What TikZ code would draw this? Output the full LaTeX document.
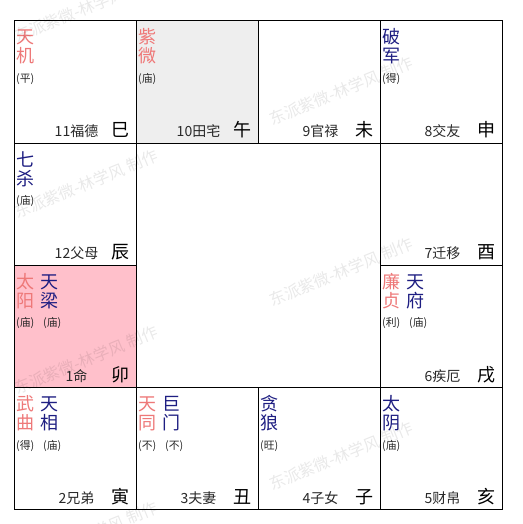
\documentclass[tikz,border=0pt]{standalone}
\usepackage{fontspec}
\setmainfont{Noto Sans CJK SC}
\definecolor{starred}{RGB}{238,120,120}
\definecolor{starblue}{RGB}{30,30,130}
\definecolor{cellgray}{RGB}{238,238,238}
\definecolor{mingpink}{RGB}{255,192,203}
\definecolor{lbltext}{RGB}{40,40,40}
\newcommand\gong[6]{%
  \pgfmathsetmacro\gx{13.5+122*#2}%
  \pgfmathsetmacro\gy{20.5+122.2*#3}%
  \node[cellbox, fill=#6] (c#1) at (\gx,\gy) {};
  \node[lbl] (l#1) at (\gx+63,\gy+116.2) {#4};
  \node[br] (b#1) at (\gx+115.7,\gy+116.2) {#5};
}
\newcommand\xing[7]{%
  \pgfmathsetmacro\gx{13.5+122*#2+2.7+24*#4}%
  \pgfmathsetmacro\gy{20.5+122.2*#3}%
  \node[starch, text=#5] (s#1a) at (\gx,\gy+23.5) {#6};
  \node[starch, text=#5] (s#1b) at (\gx,\gy+42.5) {#7};
}
\newcommand\miao[5]{%
  \pgfmathsetmacro\gx{13.5+122*#2+2.5+27*#4}%
  \pgfmathsetmacro\gy{20.5+122.2*#3}%
  \node[bright] (m#1) at (\gx,\gy+62) {#5};
}
\begin{document}
\begin{tikzpicture}[x=1pt,y=-1pt,
  cellbox/.style={draw=black, line width=1pt, minimum width=122pt, minimum height=122.2pt, inner sep=0pt, anchor=north west},
  starch/.style={inner sep=0pt, anchor=base west, font=\fontsize{18}{18}\selectfont},
  bright/.style={inner sep=0pt, anchor=base west, text=lbltext, font=\fontsize{10.8}{11}\selectfont},
  lbl/.style={inner sep=0pt, anchor=base, text=lbltext, font=\fontsize{14}{14}\selectfont},
  br/.style={inner sep=0pt, anchor=base east, text=black, font=\fontsize{18}{18}\selectfont},
  wm/.style={inner sep=0pt, rotate=22, text=black, text opacity=0.085, font=\fontsize{16}{16}\selectfont}]
\useasboundingbox (0,0) rectangle (522,524);
% palaces
\gong{si}{0}{0}{11福德}{巳}{white}
\gong{wu}{1}{0}{10田宅}{午}{cellgray}
\gong{wei}{2}{0}{9官禄}{未}{white}
\gong{shen}{3}{0}{8交友}{申}{white}
\gong{chen}{0}{1}{12父母}{辰}{white}
\gong{you}{3}{1}{7迁移}{酉}{white}
\gong{mao}{0}{2}{1命}{卯}{mingpink}
\gong{xu}{3}{2}{6疾厄}{戌}{white}
\gong{yin}{0}{3}{2兄弟}{寅}{white}
\gong{chou}{1}{3}{3夫妻}{丑}{white}
\gong{zi}{2}{3}{4子女}{子}{white}
\gong{hai}{3}{3}{5财帛}{亥}{white}
% stars
\xing{tj}{0}{0}{0}{starred}{天}{机}   \miao{tj}{0}{0}{0}{(平)}
\xing{zw}{1}{0}{0}{starred}{紫}{微}   \miao{zw}{1}{0}{0}{(庙)}
\xing{pj}{3}{0}{0}{starblue}{破}{军}  \miao{pj}{3}{0}{0}{(得)}
\xing{qs}{0}{1}{0}{starblue}{七}{杀}  \miao{qs}{0}{1}{0}{(庙)}
\xing{ty}{0}{2}{0}{starred}{太}{阳}   \miao{ty}{0}{2}{0}{(庙)}
\xing{tl}{0}{2}{1}{starblue}{天}{梁}  \miao{tl}{0}{2}{1}{(庙)}
\xing{lz}{3}{2}{0}{starred}{廉}{贞}   \miao{lz}{3}{2}{0}{(利)}
\xing{tf}{3}{2}{1}{starblue}{天}{府}  \miao{tf}{3}{2}{1}{(庙)}
\xing{wq}{0}{3}{0}{starred}{武}{曲}   \miao{wq}{0}{3}{0}{(得)}
\xing{tx}{0}{3}{1}{starblue}{天}{相}  \miao{tx}{0}{3}{1}{(庙)}
\xing{tt}{1}{3}{0}{starred}{天}{同}   \miao{tt}{1}{3}{0}{(不)}
\xing{jm}{1}{3}{1}{starblue}{巨}{门}  \miao{jm}{1}{3}{1}{(不)}
\xing{tg}{2}{3}{0}{starblue}{贪}{狼}  \miao{tg}{2}{3}{0}{(旺)}
\xing{tyin}{3}{3}{0}{starblue}{太}{阴} \miao{tyin}{3}{3}{0}{(庙)}
% watermarks
\node[wm] (w1) at (86,8) {东派紫微-林学风 制作};
\node[wm] (w2) at (86,184) {东派紫微-林学风 制作};
\node[wm] (w3) at (86,360) {东派紫微-林学风 制作};
\node[wm] (w4) at (86,536) {东派紫微-林学风 制作};
\node[wm] (w5) at (341,91) {东派紫微-林学风 制作};
\node[wm] (w6) at (341,272) {东派紫微-林学风 制作};
\node[wm] (w7) at (341,456) {东派紫微-林学风 制作};
\node[wm] (w8) at (596,8) {东派紫微-林学风 制作};
\node[wm] (w9) at (596,184) {东派紫微-林学风 制作};
\node[wm] (w10) at (596,360) {东派紫微-林学风 制作};
\end{tikzpicture}
\end{document}
